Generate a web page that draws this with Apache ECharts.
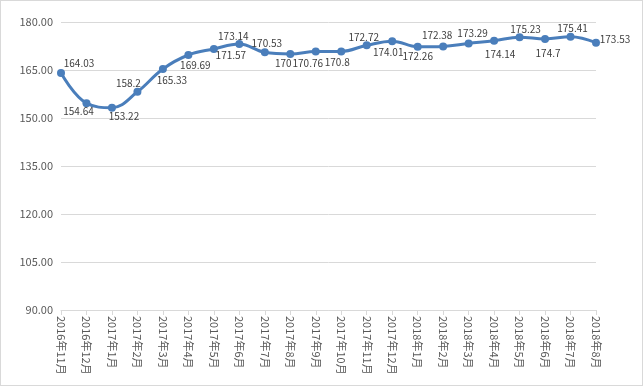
<!DOCTYPE html>
<html><head><meta charset="utf-8">
<script src="https://cdn.jsdelivr.net/npm/echarts@6/dist/echarts.min.js"></script>
<style>html,body{margin:0;padding:0;background:#fff}#c{width:643px;height:386px;box-sizing:border-box;border:1px solid #d9d9d9}</style>
</head><body><div id="c"></div>
<script>
var categories = ['2016年11月','2016年12月','2017年1月','2017年2月','2017年3月','2017年4月','2017年5月','2017年6月','2017年7月','2017年8月','2017年9月','2017年10月','2017年11月','2017年12月','2018年1月','2018年2月','2018年3月','2018年4月','2018年5月','2018年6月','2018年7月','2018年8月'];
var values = [164.03,154.64,153.22,158.2,165.33,169.69,171.57,173.14,170.53,170,170.76,170.8,172.72,174.01,172.26,172.38,173.29,174.14,175.23,174.7,175.41,173.53];
var yMin = 90, yMax = 180, yStep = 15;

var labelShift = [
 [18,-10],[-8,8],[12,9],[-9,-9],[9,11],[7,10],[17,6],[-6,-8],[2,-9],[-7,9],
 [-8,12],[-4,11],[-3,-8],[-4,11],[0,9],[-6,-11],[4,-10],[6,13],[6,-8],[3,14],
 [2,-8],[19,-4]
];
var seriesData = values.map(function(v,i){
  return {value:v,label:{position:'inside',offset:labelShift[i]}};
});
var font = '"Noto Sans CJK SC","Noto Sans",sans-serif';
var chart = echarts.init(document.getElementById('c'));
chart.setOption({
  animation:false,
  grid:{left:60,right:46,top:21,bottom:75},
  xAxis:{type:'category',data:categories,boundaryGap:false,
    axisLine:{lineStyle:{color:'#d9d9d9'}},
    axisTick:{show:true,length:5,alignWithLabel:true,lineStyle:{color:'#d9d9d9'}},
    axisLabel:{rotate:-90,color:'#595959',fontSize:11,fontFamily:font,margin:6,interval:0}},
  yAxis:{type:'value',min:yMin,max:yMax,interval:yStep,
    axisLine:{show:false},axisTick:{show:false},
    splitLine:{lineStyle:{color:'#d9d9d9'}},
    axisLabel:{color:'#595959',fontSize:11,fontFamily:font,margin:8,formatter:function(v){return v.toFixed(2);}}},
  series:[{type:'line',data:seriesData,smooth:0.4,symbol:'circle',symbolSize:8,
    lineStyle:{color:'#4a7ebb',width:3},itemStyle:{color:'#4a7ebb'},
    label:{show:true,color:'#404040',fontSize:10,fontFamily:font}}]
});
</script></body></html>
